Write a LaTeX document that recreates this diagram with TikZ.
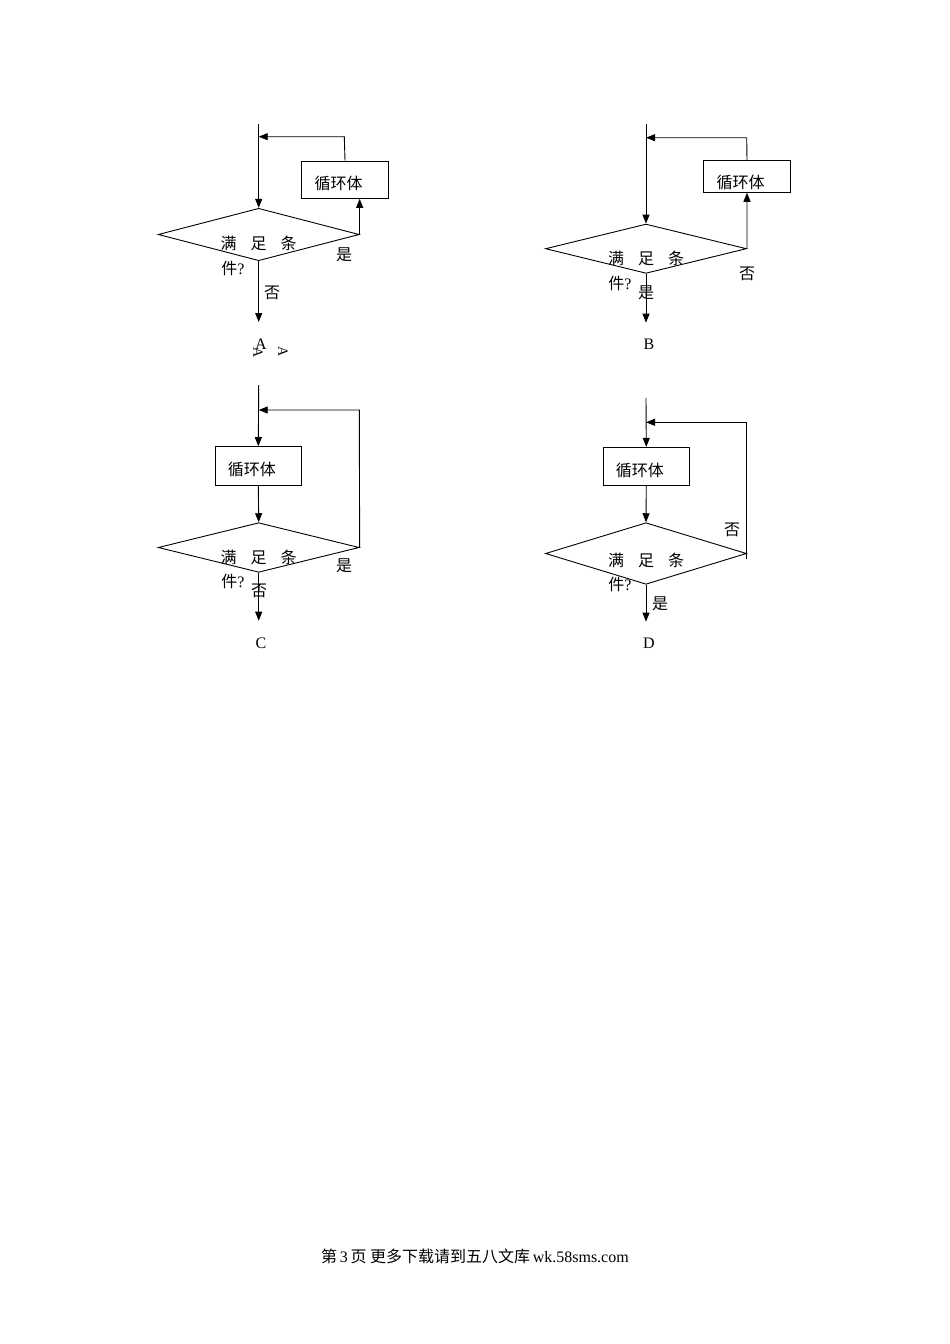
\documentclass[tikz,border=0pt]{standalone}
\usepackage{fontspec}
\setmainfont{Liberation Serif}
\newfontfamily\cjk{Noto Sans CJK SC}
\usetikzlibrary{arrows.meta,shapes.geometric}
\begin{document}
\begin{tikzpicture}[x=1pt, y=-1pt, line width=0.9pt,
    every node/.style={font=\fontsize{16pt}{19pt}\selectfont},
    loopbox/.style={rectangle, draw, inner sep=0pt, text height=22pt, text depth=2pt,
      font=\fontsize{16pt}{19pt}\selectfont\cjk},
    cond/.style={diamond, draw, inner sep=0pt},
    arr/.style={-{Triangle[length=9pt,width=7pt]}}]
    \useasboundingbox (0,0) rectangle (950,1344);

    % A
    \coordinate (a0) at (258.7,124);
    \node[loopbox, minimum width=86.6pt, minimum height=37.3pt] (ab) at (345,179.7) {循环体\kern13pt};
    \node[cond, minimum width=201pt, minimum height=52.4pt] (ad) at (258.7,234.5) {};
    \coordinate (aout) at (258.7,322);
    \draw[arr] (a0) -- (ad.north);
    \draw[arr] (ad.east) -- (ad.east |- ab.south);
    \draw[arr] (ab.north) -- (344.3,136.7) -- (a0 |- 0,136.7);
    \draw[arr] (ad.south) -- (aout);
    \node (at1) at (258.7,243) {\cjk 满\hspace{14pt}足\hspace{14pt}条};
    \node (at2) at (233,268) {{\cjk 件}?};
    \node (ayes) at (344,255) {\cjk 是};
    \node (ano) at (272,293) {\cjk 否};
    \node (alab) at (261,344) {A};
    \node[rotate=-90, font=\fontsize{14pt}{16pt}\selectfont] (ar1) at (258,353) {A};
    \node[rotate=-90, font=\fontsize{14pt}{16pt}\selectfont] (ar2) at (283,352) {A};

    % B
    \coordinate (b0) at (646,124);
    \node[loopbox, text height=26pt, minimum width=87.7pt, minimum height=31.6pt] (bb) at (747,176.5) {循环体\kern13pt};
    \node[cond, minimum width=201pt, minimum height=49.3pt] (bd) at (646,248.7) {};
    \coordinate (bout) at (646,322.7);
    \draw[arr] (b0) -- (bd.north);
    \draw[arr] (bd.east) -- (bb.south);
    \draw[arr] (bb.north) -- (746.7,137.7) -- (b0 |- 0,137.7);
    \draw[arr] (bd.south) -- (bout);
    \node (bt1) at (646,258) {\cjk 满\hspace{14pt}足\hspace{14pt}条};
    \node (bt2) at (620,283) {{\cjk 件}?};
    \node (byes) at (646,293) {\cjk 是};
    \node (bno) at (747,274) {\cjk 否};
    \node (blab) at (649,344) {B};

    % C
    \coordinate (c0) at (258.7,385);
    \node[loopbox, minimum width=86.7pt, minimum height=38.3pt] (cb) at (258.3,465.8) {循环体\kern13pt};
    \node[cond, minimum width=201pt, minimum height=49.6pt] (cd) at (258.7,547.5) {};
    \coordinate (cout) at (258.7,620.7);
    \draw[arr] (c0) -- (cb.north);
    \draw[arr] (cb.south) -- (cd.north);
    \draw[arr] (cd.east) -- (359.3,410) -- (c0 |- 0,410);
    \draw[arr] (cd.south) -- (cout);
    \node (ct1) at (258.7,557) {\cjk 满\hspace{14pt}足\hspace{14pt}条};
    \node (ct2) at (233,581) {{\cjk 件}?};
    \node (cyes) at (344,566) {\cjk 是};
    \node (cno) at (259,591) {\cjk 否};
    \node (clab) at (261,643) {C};

    % D
    \coordinate (d0) at (646,398);
    \node[loopbox, minimum width=86pt, minimum height=37.7pt] (db) at (646.3,466.2) {循环体\kern13pt};
    \node[cond, minimum width=201pt, minimum height=61.6pt] (dd) at (646,553.5) {};
    \coordinate (dend) at (746.7,559.3);
    \coordinate (dout) at (646,621.7);
    \draw[arr] (d0) -- (db.north);
    \draw[arr] (db.south) -- (dd.north);
    \draw[arr] (dend) -- (746.7,422.3) -- (d0 |- 0,422.3);
    \draw[arr] (dd.south) -- (dout);
    \node (dt1) at (646,560) {\cjk 满\hspace{14pt}足\hspace{14pt}条};
    \node (dt2) at (620,584) {{\cjk 件}?};
    \node (dyes) at (660,604) {\cjk 是};
    \node (dno) at (732,530) {\cjk 否};
    \node (dlab) at (649,643) {D};

    % footer
    \node (foot) at (475,1256) {{\cjk 第}\,3\,{\cjk 页 更多下载请到五八文库}\,wk.58sms.com};
\end{tikzpicture}
\end{document}
